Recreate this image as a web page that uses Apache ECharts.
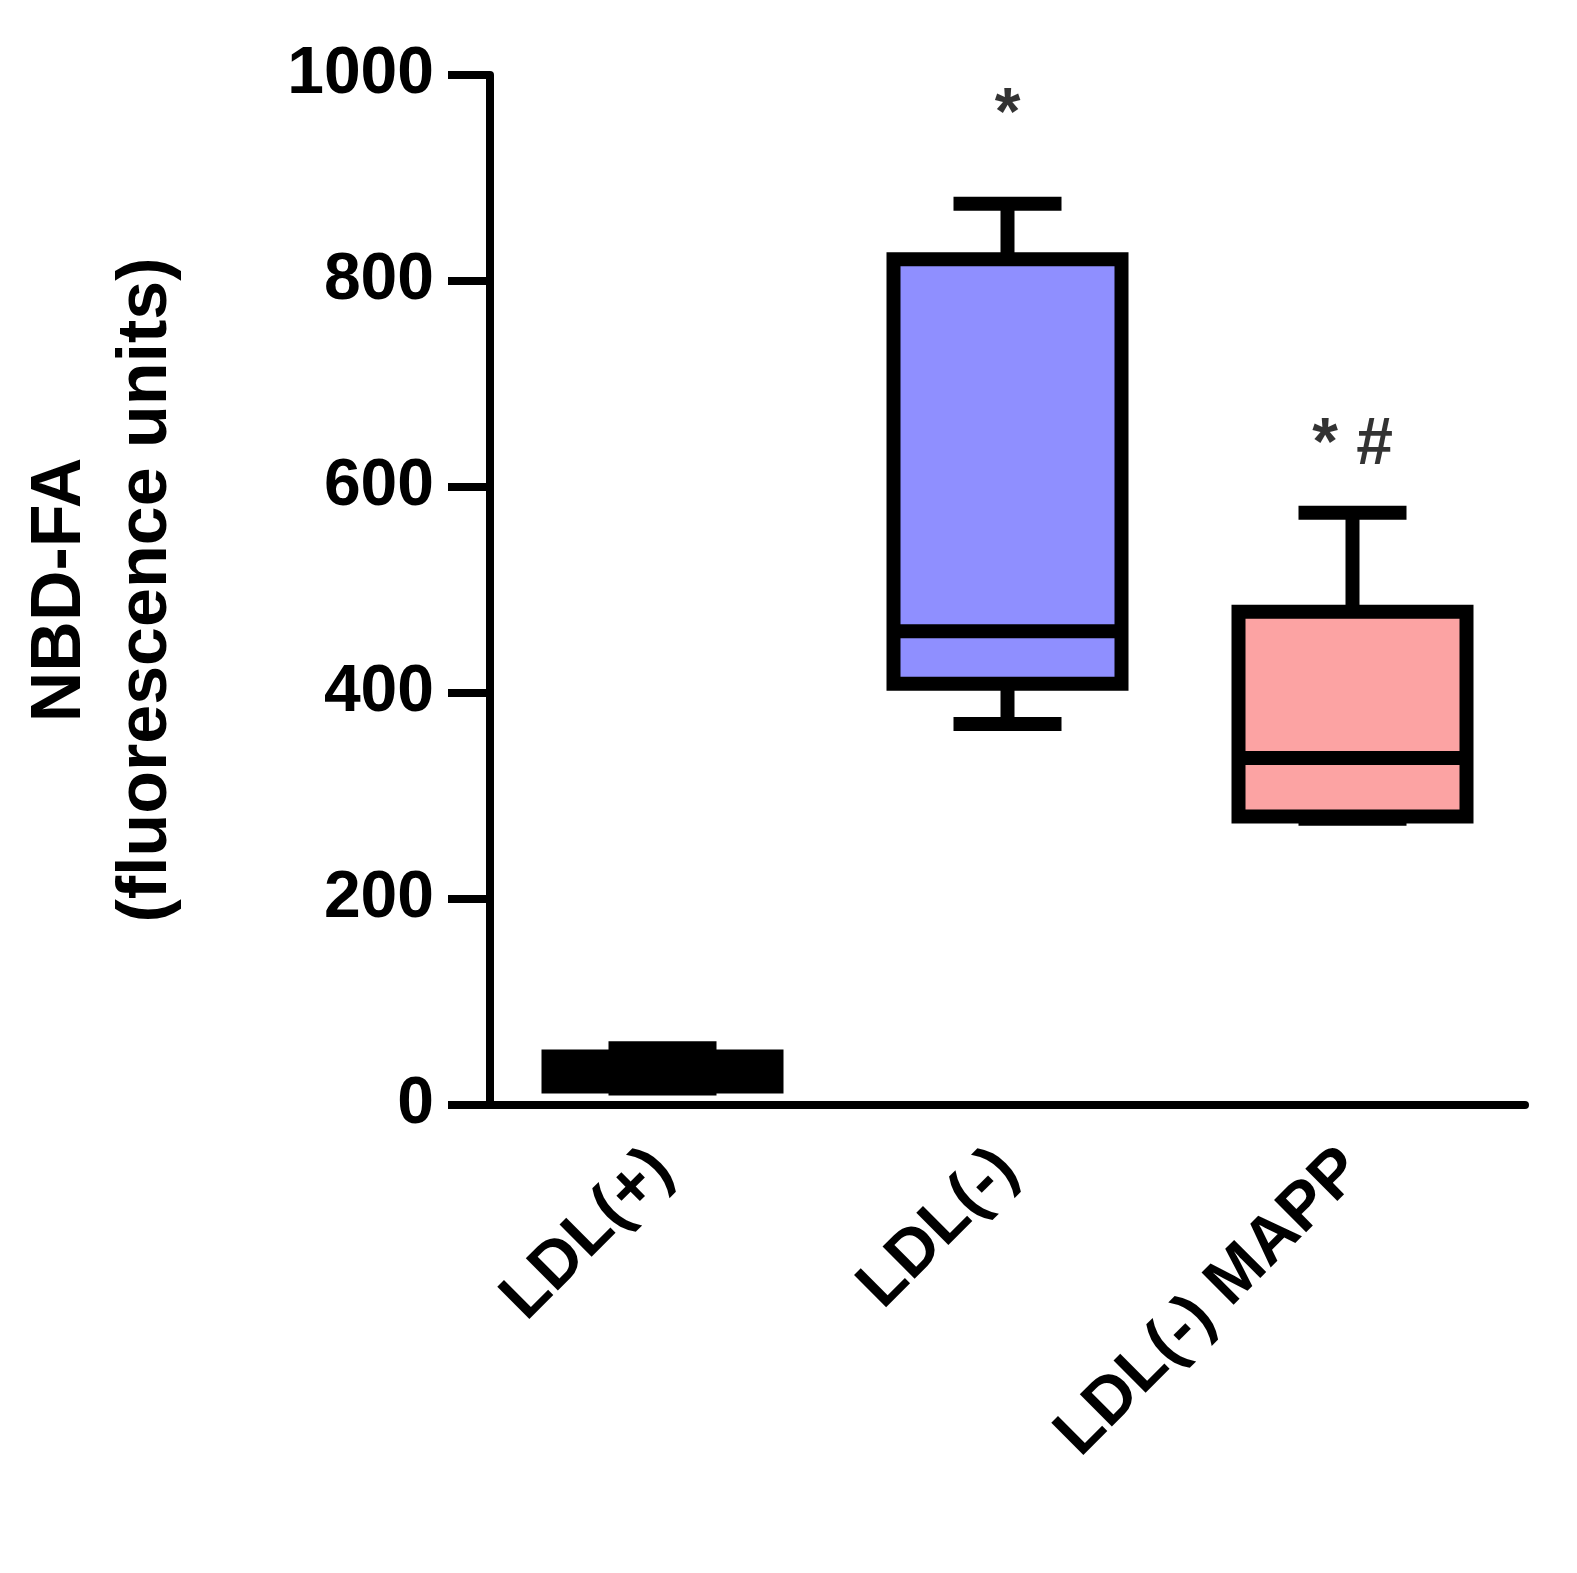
<!DOCTYPE html>
<html><head><meta charset="utf-8">
<script src="https://cdn.jsdelivr.net/npm/echarts@6/dist/echarts.min.js"></script>
<style>html,body{margin:0;padding:0;background:#fff}#c{width:1577px;height:1573px}</style>
</head><body><div id="c"></div>
<script>
const categories = ['LDL(+)', 'LDL(-)', 'LDL(-) MAPP'];
// [min, Q1, median, Q3, max]
const boxValues = [
  [16, 18, 30, 47, 55],
  [370, 409, 460, 821, 875],
  [278, 280, 337, 479, 575]
];
const boxColors = ['#000000', '#8f8fff', '#fca3a3'];
const annotations = [['LDL(-)', 960, '*'], ['LDL(-) MAPP', 640, '* #']];

const chart = echarts.init(document.getElementById('c'));
const font = 'Liberation Sans, Arial, sans-serif';
const LW = 14;
function renderBox(params, api) {
  const i = api.value(0);
  const v = [api.value(1), api.value(2), api.value(3), api.value(4), api.value(5)];
  const p = v.map(y => api.coord([i, y]));
  const x = p[0][0];
  const bw = 228, cw = 108;
  const ls = {stroke: '#000', lineWidth: LW, fill: null};
  const children = [
    {type: 'line', shape: {x1: x, y1: p[4][1], x2: x, y2: p[3][1]}, style: ls},
    {type: 'line', shape: {x1: x, y1: p[0][1], x2: x, y2: p[1][1]}, style: ls},
    {type: 'line', shape: {x1: x - cw / 2, y1: p[4][1], x2: x + cw / 2, y2: p[4][1]}, style: ls},
    {type: 'line', shape: {x1: x - cw / 2, y1: p[0][1], x2: x + cw / 2, y2: p[0][1]}, style: ls},
    {type: 'rect', shape: {x: x - bw / 2, y: p[3][1], width: bw, height: p[1][1] - p[3][1]},
      style: {fill: boxColors[i], stroke: '#000', lineWidth: LW}},
    {type: 'line', shape: {x1: x - bw / 2, y1: p[2][1], x2: x + bw / 2, y2: p[2][1]}, style: ls}
  ];
  return {type: 'group', children};
}
chart.setOption({
  animation: false,
  grid: {left: 490, right: 52, top: 75, bottom: 468},
  xAxis: {
    type: 'category', data: categories,
    axisLine: {lineStyle: {color: '#000', width: 8}},
    axisTick: {show: false},
    axisLabel: {rotate: 45, color: '#000', fontSize: 66, fontWeight: 'bold', fontFamily: font, margin: 55}
  },
  yAxis: {
    type: 'value', min: 0, max: 1000, interval: 200,
    name: 'NBD-FA\n(fluorescence units)', nameLocation: 'middle', nameGap: 300, nameRotate: 90,
    nameTextStyle: {color: '#000', fontSize: 70, fontWeight: 'bold', fontFamily: font, lineHeight: 86},
    axisLine: {show: true, lineStyle: {color: '#000', width: 8}},
    axisTick: {show: true, length: 42, lineStyle: {color: '#000', width: 8}},
    axisLabel: {color: '#000', fontSize: 66, fontWeight: 'bold', fontFamily: font, margin: 56,
      formatter: v => String(v)},
    splitLine: {show: false}
  },
  series: [{
    type: 'custom',
    renderItem: renderBox,
    encode: {x: 0, y: [1, 2, 3, 4, 5]},
    data: boxValues.map((v, i) => [i].concat(v))
  }, {
    type: 'scatter', symbolSize: 0,
    data: annotations.map(a => ({value: [a[0], a[1]],
      label: {show: true, formatter: a[2], color: '#000', position: 'inside',
        fontSize: 66, fontWeight: 'bold', fontFamily: font}}))
  }]
});
</script></body></html>
